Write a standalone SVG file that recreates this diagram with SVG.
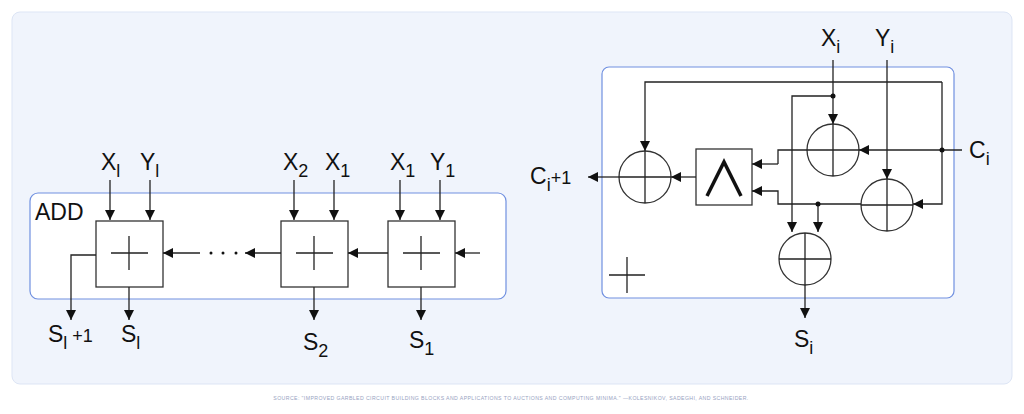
<svg xmlns="http://www.w3.org/2000/svg" width="1024" height="414" viewBox="0 0 1024 414">
<defs>
<marker id="a" viewBox="0 0 10 10" refX="10" refY="5" markerWidth="10" markerHeight="10" markerUnits="userSpaceOnUse" orient="auto"><path d="M0,0L10,5L0,10z" fill="#111"/></marker>
<style>
.l{fill:none;stroke:#222;stroke-width:1.3}
.ar{fill:none;stroke:#222;stroke-width:1.3;marker-end:url(#a)}
.bx{fill:#fff;stroke:#333;stroke-width:1.3}
.t{font-family:"Liberation Sans",Arial,sans-serif;font-size:23px;fill:#111}
.s{font-size:18px}
.d{fill:#111}
</style>
</defs>
<rect width="1024" height="414" fill="#fff"/>
<rect x="12" y="12" width="1000" height="372" rx="8" fill="#f0f4fc" stroke="#dde5f5"/>
<g id="add">
<rect x="30" y="193" width="476" height="106" rx="8" fill="#fff" stroke="#7090e0" stroke-width="1.2"/>
<text class="t" x="35" y="220">ADD</text>
</g>
<g id="adder-l">
<rect class="bx" x="96" y="221" width="67" height="66"/>
<path class="l" d="M111 253H148M129 236V270"/>
</g>
<g id="adder-2">
<rect class="bx" x="281" y="221" width="67" height="66"/>
<path class="l" d="M296 253H333M314 236V270"/>
</g>
<g id="adder-1">
<rect class="bx" x="388" y="221" width="67" height="66"/>
<path class="l" d="M403 253H440M421 236V270"/>
</g>
<g id="dots" class="d"><circle cx="211" cy="253" r="1.5"/><circle cx="223" cy="253" r="1.5"/><circle cx="236" cy="253" r="1.5"/></g>
<g id="labels-left" class="t">
<text x="101" y="170">X<tspan class="s" dy="7">l</tspan></text>
<text x="140" y="170">Y<tspan class="s" dy="7">l</tspan></text>
<text x="283" y="170">X<tspan class="s" dy="7">2</tspan></text>
<text x="325" y="170">X<tspan class="s" dy="7">1</tspan></text>
<text x="390" y="170">X<tspan class="s" dy="7">1</tspan></text>
<text x="430" y="170">Y<tspan class="s" dy="7">1</tspan></text>
<text x="48" y="342">S<tspan class="s" dy="7">l</tspan><tspan dy="-7" font-size="18"> +1</tspan></text>
<text x="121" y="342">S<tspan class="s" dy="7">l</tspan></text>
<text x="303" y="350">S<tspan class="s" dy="7">2</tspan></text>
<text x="409" y="348">S<tspan class="s" dy="7">1</tspan></text>
</g>
<g id="right">
<rect x="602" y="67" width="352" height="231" rx="7" fill="#fff" stroke="#7090e0" stroke-width="1.2"/>
<path class="l" d="M609 275H645M627 257V293"/>
</g>
<g id="xor1"><circle class="bx" cx="645" cy="177" r="26"/><path class="l" d="M619 177H671M645 151V203"/></g>
<g id="xor2"><circle class="bx" cx="833" cy="150" r="26"/><path class="l" d="M807 150H859M833 124V176"/></g>
<g id="xor3"><circle class="bx" cx="887" cy="205" r="26"/><path class="l" d="M861 205H913M887 179V231"/></g>
<g id="xor4"><circle class="bx" cx="805" cy="259" r="26"/><path class="l" d="M779 259H831M805 233V285"/></g>
<g id="and"><rect class="bx" x="696" y="149" width="56" height="56"/><path d="M707 196L724 162L741 196" fill="none" stroke="#111" stroke-width="3.5"/></g>
<g id="connectors">
<path class="ar" d="M110 180V220"/><path class="ar" d="M150 180V220"/>
<path class="ar" d="M294 180V220"/><path class="ar" d="M334 180V220"/>
<path class="ar" d="M400 180V220"/><path class="ar" d="M440 180V220"/>
<path class="ar" d="M480 253H455"/>
<path class="ar" d="M388 253H348"/>
<path class="ar" d="M281 253H245"/>
<path class="ar" d="M200 253H163"/>
<path class="ar" d="M96 255H71V320"/>
<path class="ar" d="M129 287V320"/>
<path class="ar" d="M314 287V320"/>
<path class="ar" d="M421 287V320"/>
<path class="ar" d="M942 82H645V151"/>
<path class="ar" d="M942 82V204H913"/>
<path class="ar" d="M962 150H859"/>
<path class="l" d="M807 150H778V164"/>
<path class="ar" d="M778 164H752"/>
<path class="ar" d="M833 60V124"/>
<path class="ar" d="M833 96H792V232"/>
<path class="ar" d="M887 60V179"/>
<path class="ar" d="M861 204H778V191H752"/>
<path class="ar" d="M818 204V232"/>
<path class="ar" d="M696 177H671"/>
<path class="ar" d="M619 177H588"/>
<path class="ar" d="M805 285V318"/>
<circle class="d" cx="942" cy="150" r="2.5"/>
<circle class="d" cx="833" cy="96" r="2.5"/>
<circle class="d" cx="818" cy="204" r="2.5"/>
</g>
<g id="labels-right" class="t">
<text x="821" y="46">X<tspan class="s" dy="7">i</tspan></text>
<text x="875" y="46">Y<tspan class="s" dy="7">i</tspan></text>
<text x="969" y="158">C<tspan class="s" dy="7">i</tspan></text>
<text x="530" y="184">C<tspan class="s" dy="7">i</tspan><tspan dy="-7" font-size="18">+1</tspan></text>
<text x="794" y="347">S<tspan class="s" dy="7">i</tspan></text>
</g>
<text x="511" y="400" text-anchor="middle" font-family="Liberation Sans,Arial,sans-serif" font-size="5.2" fill="#98a3bf" letter-spacing="0.4">SOURCE: "IMPROVED GARBLED CIRCUIT BUILDING BLOCKS AND APPLICATIONS TO AUCTIONS AND COMPUTING MINIMA." —KOLESNIKOV, SADEGHI, AND SCHNEIDER.</text>
</svg>
